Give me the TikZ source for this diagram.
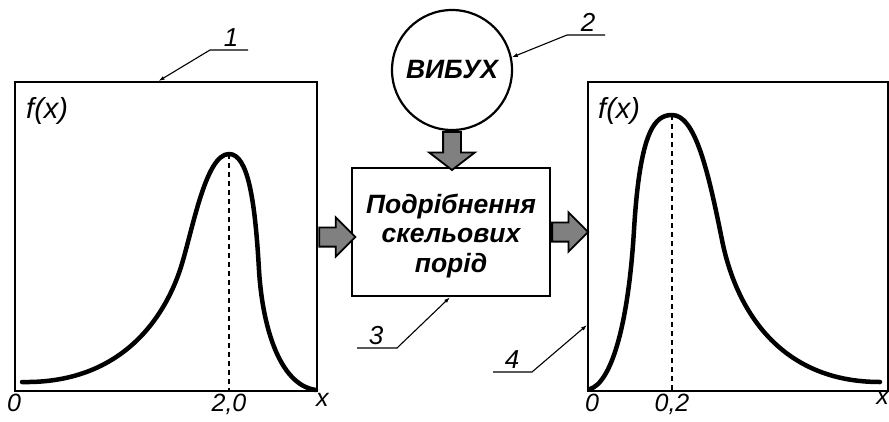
\documentclass[tikz,border=0pt]{standalone}
\usepackage{fontspec}
\setmainfont{Liberation Sans}
\usetikzlibrary{arrows.meta,shapes.arrows,calc}

\tikzset{
  plotbox/.style={draw, line width=2.4pt, inner sep=0pt, anchor=north west},
  curve/.style={line width=4.5pt, line cap=round, line join=round},
  peakline/.style={line width=1.8pt, dash pattern=on 5pt off 4pt},
  fatarrow/.style={single arrow, draw, line width=1.8pt, fill=black!50,
    inner sep=8.7pt, single arrow head extend=10pt, anchor=tail},
  leader/.style={line width=1.1pt, -{Latex[length=6pt,width=4pt]}},
  axislabel/.style={font=\fontsize{25}{25}\selectfont\itshape, inner sep=1pt},
  leadlabel/.style={font=\fontsize{26}{26}\selectfont\itshape, inner sep=1pt, anchor=south},
  funclabel/.style={font=\fontsize{29}{29}\selectfont\itshape, inner sep=0pt, anchor=north west},
  bigtext/.style={font=\fontsize{26.5}{29.5}\selectfont\bfseries\itshape}
}

\begin{document}
\begin{tikzpicture}[x=1pt, y=-1pt]
  \useasboundingbox (0,0) rectangle (889,421);

  % plot boxes
  \node[plotbox, minimum width=302pt, minimum height=309pt] (lbox) at (14,81) {};
  \node[plotbox, minimum width=300pt, minimum height=309pt] (rbox) at (587,81) {};

  % explosion and crushing
  \node[circle, draw, line width=2.2pt, minimum size=120pt, inner sep=0pt, bigtext] (blast) at (452,70) {ВИБУХ};
  \node[draw, line width=2.4pt, minimum width=198pt, minimum height=128pt] (crush) at (451,232) {};
  \node[bigtext, align=center] (crushtxt) at ([yshift=-4pt]crush.center) {Подрібнення\\скельових\\порід};

  % fat arrows
  \node[fatarrow, minimum height=38pt, shape border rotate=270, inner sep=8pt,
    single arrow head extend=14pt, single arrow tip angle=105] (adown) at (blast.south) {};
  \node[fatarrow, minimum height=36pt] (aleft) at ([yshift=-5pt]lbox.east |- crush.center) {};
  \node[fatarrow, minimum height=36pt] (aright) at (crush.east) {};

  % left distribution
  \node[funclabel] (lfx) at (26,97) {f(x)};
  \coordinate (lpeak) at (229,154);
  \draw[peakline] (lpeak) -- (lpeak |- lbox.south);
  \draw[curve] (22,382) .. controls (130,384) and (168,306) .. (180,270)
    .. controls (192,234) and (205,154) .. (lpeak)
    .. controls (248,154) and (255,200) .. (259,270)
    .. controls (262,322) and (278,385) .. (316,390);
  \node[axislabel, anchor=north] (l0) at (lbox.south west) {0};
  \node[axislabel, anchor=north] (lmode) at (lpeak |- lbox.south) {2,0};
  \node[axislabel, anchor=north] (lx) at ([xshift=4pt]lbox.south east) {x};

  % right distribution
  \node[funclabel] (rfx) at (598,97) {f(x)};
  \coordinate (rpeak) at (672,115);
  \draw[peakline] (rpeak) -- (rpeak |- rbox.south);
  \draw[curve] (590,389) .. controls (610,383) and (628,330) .. (634,230)
    .. controls (640,130) and (655,115) .. (rpeak)
    .. controls (695,115) and (708,170) .. (722,240)
    .. controls (736,310) and (780,382) .. (880,382);
  \node[axislabel, anchor=north] (r0) at ([xshift=5pt]rbox.south west) {0};
  \node[axislabel, anchor=north] (rmode) at (rpeak |- rbox.south) {0,2};
  \node[axislabel, anchor=north east, inner sep=0pt] (rx) at ([yshift=-1pt]889,390) {x};

  % leaders
  \coordinate (c1a) at (248,50); \coordinate (c1b) at (210,50);
  \node[leadlabel] (n1) at (231,48) {1};
  \draw[leader] (c1a) -- (c1b) -- ($(lbox.north west)!0.475!(lbox.north east)$);

  \coordinate (c2a) at (605,35); \coordinate (c2b) at (567,35);
  \node[leadlabel] (n2) at (588,33) {2};
  \draw[leader] (c2a) -- (c2b) -- (blast.12);

  \coordinate (c3a) at (357,348); \coordinate (c3b) at (397,348);
  \node[leadlabel] (n3) at (376,346) {3};
  \draw[leader] (c3a) -- (c3b) -- ([xshift=-1pt]crush.south);

  \coordinate (c4a) at (493,372); \coordinate (c4b) at (532,372);
  \node[leadlabel] (n4) at (512,370) {4};
  \draw[leader] (c4a) -- (c4b) -- (rbox.west |- 0,325);
\end{tikzpicture}
\end{document}
